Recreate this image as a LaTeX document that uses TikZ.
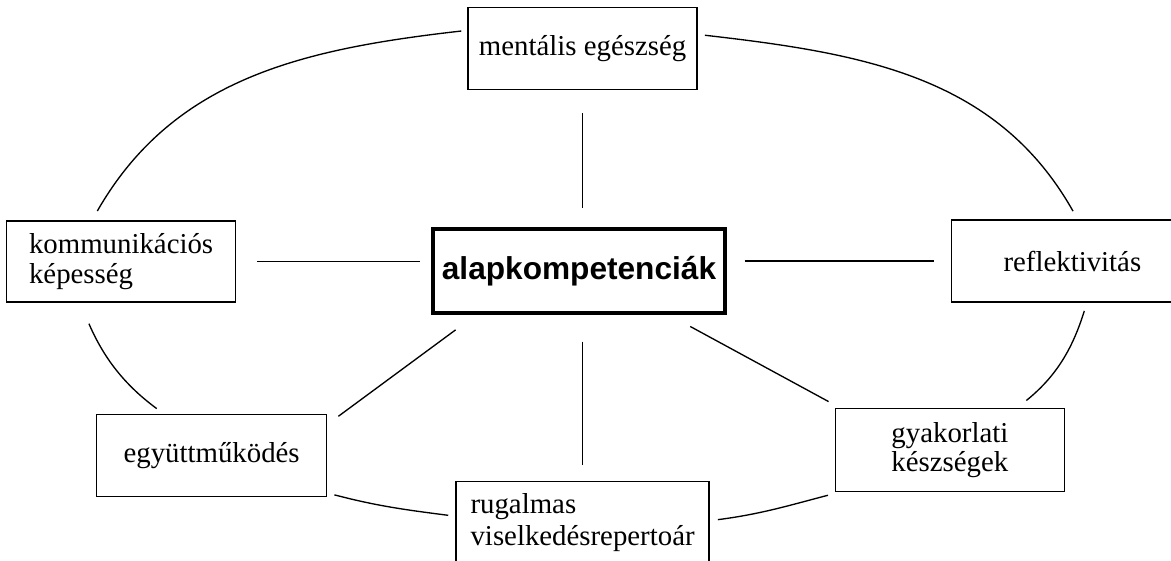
\documentclass[tikz,border=0pt]{standalone}
\usepackage{fontspec}
\setmainfont{Liberation Serif}
\setsansfont{Liberation Sans}
\usepackage{tikz}
\usetikzlibrary{positioning}
\tikzstyle{kbox} = [rectangle, draw=black, line width=1.2pt, minimum width=5.725cm, minimum height=2.05cm, inner sep=0pt, align=center, font=\fontsize{20.5}{21}\selectfont]
\tikzstyle{corebox} = [rectangle, draw=black, line width=2.2pt, minimum width=7.3cm, minimum height=2.1cm, inner sep=0pt, font=\sffamily\bfseries\fontsize{22.5}{24}\selectfont]
\tikzstyle{spoke} = [line width=0.95pt, color=black]
\tikzstyle{ring} = [line width=0.95pt, color=black]

\begin{document}
\begin{tikzpicture}
\useasboundingbox (-14.475,-7.225) rectangle (14.8,6.775);
\clip (-14.475,-7.225) rectangle (14.8,6.775);
\fill[white] (-14.475,-7.225) rectangle (14.8,6.775);

\node[corebox] (core) at (0,0) {alapkompetenciák};
\node[kbox, above=3.425cm of core, xshift=0.09cm] (ment) {mentális egészség};
\node[kbox, minimum height=2.025cm, align=left, left=4.875cm of core, yshift=0.24cm] (komm) {kommunikációs\\képesség};
\node[kbox, minimum width=6.05cm, right=5.6cm of core, yshift=0.25cm] (refl) {reflektivitás};
\node[kbox, minimum width=5.75cm, below left=2.475cm and 2.6cm of core] (egy) {együttműködés};
\node[kbox, minimum width=6.325cm, minimum height=2.075cm, align=left, font=\fontsize{20.5}{23}\selectfont, below=4.15cm of core, xshift=0.09cm] (rug) {rugalmas\\viselkedésrepertoár};
\node[kbox, minimum height=2.075cm, below right=2.325cm and 2.7cm of core] (gyak) {gyakorlati\\készségek};

\draw[spoke, shorten <=0.575cm, shorten >=0.475cm] (ment.south) -- (ment.south |- core.north);
\draw[spoke, shorten <=0.525cm, shorten >=0.275cm] (komm.east) -- (komm.east -| core.west);
\draw[spoke, shorten <=0.45cm, shorten >=0.425cm] (refl.west -| core.east) -- (refl.west);
\draw[spoke, shorten <=0.645cm, shorten >=0.34cm] (core.203) -- (egy.15.5);
\draw[spoke, shorten <=0.675cm, shorten >=0.4cm] (rug.north |- core.south) -- (rug.north);
\draw[spoke, shorten <=0.625cm, shorten >=0.3125cm] (core.334) -- (gyak.159.4);

\draw[ring, shorten <=0.15cm, shorten >=0.26cm] (ment.171.6) to[out=186.5, in=60.2] (komm.125.3);
\draw[ring, shorten <=0.5725cm, shorten >=0.21cm] (komm.225.6) to[out=293.6, in=143.7] (egy.139.6);
\draw[ring, shorten <=0.18cm, shorten >=0.1775cm] (egy.342.5) to[out=345.3, in=172.7] (rug.177.5);
\draw[ring, shorten <=0.2cm, shorten >=0.3cm] (rug.1.6) to[out=7.3, in=194.6] (gyak.201.4);
\draw[ring, shorten <=0.28cm, shorten >=0.21cm] (gyak.32.6) to[out=39, in=252.8] (refl.289.5);
\draw[ring, shorten <=0.23cm, shorten >=0.175cm] (refl.83.7) to[out=119.4, in=353.45] (ment.7.6);
\end{tikzpicture}
\end{document}
